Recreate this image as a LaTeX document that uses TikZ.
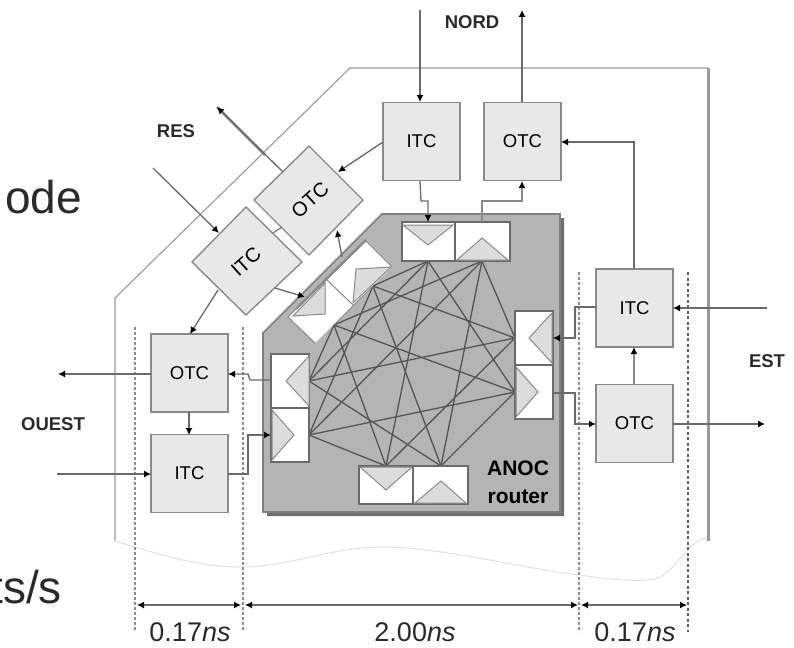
\documentclass[tikz,border=0pt]{standalone}
\usepackage{fontspec}
\setmainfont{Liberation Sans}
\usetikzlibrary{arrows.meta,shapes.geometric}
\definecolor{boxfill}{HTML}{E8E8E8}
\definecolor{boxline}{HTML}{8A8A8A}
\definecolor{routerfill}{HTML}{B4B4B4}
\definecolor{routerline}{HTML}{808080}
\definecolor{routershade}{HTML}{6E6E6E}
\definecolor{tri}{HTML}{DCDCDC}
\definecolor{wire}{HTML}{6A6A6A}
\definecolor{mesh}{HTML}{555555}
\definecolor{outer}{HTML}{9A9A9A}
\definecolor{dotc}{HTML}{8C8C8C}
\definecolor{txt}{HTML}{2A2A2A}
\tikzset{
  x=1pt,y=-1pt,
  tc/.style={draw=boxline,fill=boxfill,line width=1.9pt,inner sep=0pt,minimum width=77pt,minimum height=78pt,font=\fontsize{18.5}{18.5}\selectfont,text=black},
  dtc/.style={draw=boxline,fill=boxfill,line width=1.4pt},
  link/.style={draw=wire,line width=1.3pt,-{Latex[length=7pt,width=7pt,color=black]}},
  thickwire/.style={draw=boxline,line width=2.6pt},
  plain/.style={draw=wire,line width=1.1pt},
  port/.style={draw=wire,fill=white,line width=1.2pt},
  triangle/.style={draw=boxline,fill=tri,line width=1pt},
  meshline/.style={draw=mesh,line width=1.3pt},
  dim/.style={draw=wire,line width=1.3pt,{Latex[length=7pt,width=7pt,color=black]}-{Latex[length=7pt,width=7pt,color=black]}},
  vdots/.style={draw=dotc,line width=2.4pt,dash pattern=on 2.5pt off 2.5pt},
  lab/.style={font=\fontsize{18.5}{18.5}\selectfont\bfseries,text=txt,inner sep=0pt},
  big/.style={font=\fontsize{46}{46}\selectfont,text=txt,inner sep=0pt},
  dimtxt/.style={font=\fontsize{27}{27}\selectfont,text=txt,inner sep=0pt},
}
\begin{document}
\begin{tikzpicture}
\useasboundingbox (0,0) rectangle (794,647);
\clip (0,0) rectangle (794,647);
% outer chip boundary
\draw[outer,line width=1.1pt] (115,541) -- (115,298) -- (350,68) -- (708,68);
\draw[outer,line width=3pt] (708,68) -- (708,541);
\draw[black!12,line width=1pt] (115,541) .. controls (170,558) and (205,567) .. (240,567)
  .. controls (290,567) and (330,547) .. (383,547)
  .. controls (440,547) and (520,568) .. (580,575)
  .. controls (620,581) and (650,583) .. (662,576)
  .. controls (678,566) and (690,540) .. (707,538);
% dotted guides
\draw[vdots] (135,327) -- (135,630);
\draw[vdots] (243,327) -- (243,630);
\draw[vdots] (579,272) -- (579,632);
\draw[dotc!70!black,line width=1.2pt,dash pattern=on 3pt off 2.5pt] (688,272) -- (688,632);
% router
\fill[routershade] (386,218) -- (564,218) -- (564,516) -- (267,516) -- (267,337) -- cycle;
\draw[routerline,fill=routerfill,line width=1.6pt] (382,214) -- (560,214) -- (560,512) -- (263,512) -- (263,333) -- cycle;
% mesh anchor points
\coordinate (T1) at (428,261); \coordinate (T2) at (482,261);
\coordinate (R1) at (515,338); \coordinate (R2) at (515,392);
\coordinate (L1) at (309,381); \coordinate (L2) at (309,435);
\coordinate (B1) at (386,466); \coordinate (B2) at (441,466);
\coordinate (D1) at (334,325); \coordinate (D2) at (373,286);
% diagonal ports
\fill[white] (288,317) -- (315,343) -- (353,305) -- (327,280) -- cycle;
\fill[white] (327,280) -- (353,305) -- (392,267) -- (365,240) -- cycle;
\draw[boxline,line width=1pt] (315,343) -- (288,317) -- (365,240) -- (392,267);
\draw[boxline,line width=1pt] (327,280) -- (353,305);
\draw[triangle] (325,283) -- (325,314) -- (293,316) -- cycle;
\draw[triangle] (356,269) -- (391,267) -- (353,303) -- cycle;
\draw[boxline,line width=2.4pt] (296,309) -- (366,240);
% mesh: each input goes to the outputs of the other sides
\foreach \b in {R2,L1,B1,D2}{\draw[meshline] (T1) -- (\b);}
\foreach \b in {T2,L1,B1,D2}{\draw[meshline] (R1) -- (\b);}
\foreach \b in {T2,R2,B1,D2}{\draw[meshline] (L2) -- (\b);}
\foreach \b in {T2,R2,L1,D2}{\draw[meshline] (B2) -- (\b);}
\foreach \b in {T2,R2,L1,B1}{\draw[meshline] (D1) -- (\b);}
\draw[boxline,line width=1pt] (D1) -- (D2);
% ports
\draw[port] (402,222) rectangle (455,261); \draw[port] (455,222) rectangle (510,261);
\draw[triangle] (403,225) -- (453,225) -- (428,245) -- cycle;
\draw[triangle] (457,260) -- (508,260) -- (482,238) -- cycle;
\draw[port] (515,311) rectangle (553,365); \draw[port] (515,365) rectangle (553,419);
\draw[triangle] (552,313) -- (552,363) -- (529,338) -- cycle;
\draw[triangle] (516,367) -- (516,417) -- (538,392) -- cycle;
\draw[port] (271,354) rectangle (309,408); \draw[port] (271,408) rectangle (309,462);
\draw[triangle] (309,356) -- (309,406) -- (286,381) -- cycle;
\draw[triangle] (272,410) -- (272,460) -- (294,435) -- cycle;
\draw[port] (359,466) rectangle (413,504); \draw[port] (413,466) rectangle (468,504);
\draw[triangle] (360,467) -- (412,467) -- (386,490) -- cycle;
\draw[triangle] (415,503) -- (466,503) -- (441,481) -- cycle;
% transceiver boxes
\node[tc] (itcn) at (421.5,141.5) {ITC};
\node[tc] (otcn) at (522.5,141.5) {OTC};
\node[tc] (itce) at (634.5,308) {ITC};
\node[tc] (otce) at (634.5,423.5) {OTC};
\node[tc] (otcw) at (189.5,373) {OTC};
\node[tc] (itcw) at (189.5,473.5) {ITC};
% diagonal boxes
\draw[dtc] (309,146) -- (363,200) -- (309,255) -- (254,200) -- cycle;
\node[rotate=42,font=\fontsize{20}{20}\selectfont,inner sep=0pt] (otcd) at (310,200) {OTC};
\draw[dtc] (246,207) -- (302,262) -- (246,315) -- (192,262) -- cycle;
\node[rotate=42,font=\fontsize{20}{20}\selectfont,inner sep=0pt] (itcd) at (246,262) {ITC};
% free ends
\coordinate (nin) at (420,10);
\coordinate (nout) at (522,10);
\coordinate (ein) at (767,308);
\coordinate (eout) at (765,424);
\coordinate (win) at (57,474);
\coordinate (wout) at (58,374);
\coordinate (rout) at (217,107);
\coordinate (rin) at (153,168);
% connectors
\draw[link] (nin) -- (420,102);
\draw[thickwire] (522,68) -- (522,18);
\draw[link] (522,102) -- (nout);
\draw[link] (383,142) -- (338,172);
\draw[link] (420,181) -- (421,201) -- (428,201) -- (428,222);
\draw[link,line width=1.9pt,draw=boxline] (482,222) -- (482,201) -- (522,201) -- (522,181);
\draw[link] (634,269) -- (634,142) -- (561,142);
\draw[thickwire] (767,308) -- (708,308);
\draw[link] (ein) -- (673,308);
\draw[link] (596,307) -- (575,307) -- (575,338) -- (553,338);
\draw[link,line width=1.9pt,draw=boxline] (634,384) -- (634,347);
\draw[link] (553,393) -- (575,393) -- (575,424) -- (596,424);
\draw[link] (673,424) -- (eout);
\draw[link] (151,374) -- (wout);
\draw[link] (189,412) -- (189,435);
\draw[link] (271,380) -- (250,380) -- (248,374) -- (228,374);
\draw[link] (228,474) -- (248,474) -- (248,435) -- (271,435);
\draw[link] (win) -- (151,474);
\draw[link] (218,290) -- (190,334);
\draw[thickwire] (217,107) -- (265,155);
\draw[link] (283,172) -- (rout);
\draw[link] (rin) -- (219,233);
\draw[link] (275,288) -- (305,297);
\draw[link] (342,257) -- (337,230);
\draw[plain] (282,227) -- (273,233);
% dimensions
\coordinate (d1a) at (137,605); \coordinate (d1b) at (241,605);
\coordinate (d2a) at (245,605); \coordinate (d2b) at (578,605);
\coordinate (d3a) at (581,605); \coordinate (d3b) at (687,605);
\draw[dim] (d1a) -- (d1b);
\draw[dim] (d2a) -- (d2b);
\draw[dim] (d3a) -- (d3b);
\node[dimtxt,anchor=base] (t1) at (190,641) {0.17\textit{ns}};
\node[dimtxt,anchor=base] (t2) at (415,641) {2.00\textit{ns}};
\node[dimtxt,anchor=base] (t3) at (635,641) {0.17\textit{ns}};
% labels
\node[lab] (nord) at (472,22) {NORD};
\node[lab] (res) at (176,131) {RES};
\node[lab] (est) at (767,361) {EST};
\node[lab] (ouest) at (53,424) {OUEST};
\node[lab,font=\fontsize{21}{21}\selectfont\bfseries,text=black] (anoc) at (518,468) {ANOC};
\node[lab,font=\fontsize{21}{21}\selectfont\bfseries,text=black] (rtr) at (518,497) {router};
\node[big,anchor=base east] (ode) at (82,213) {ode};
\node[big,anchor=base east] (bps) at (62,603) {ts/s};
\end{tikzpicture}
\end{document}
